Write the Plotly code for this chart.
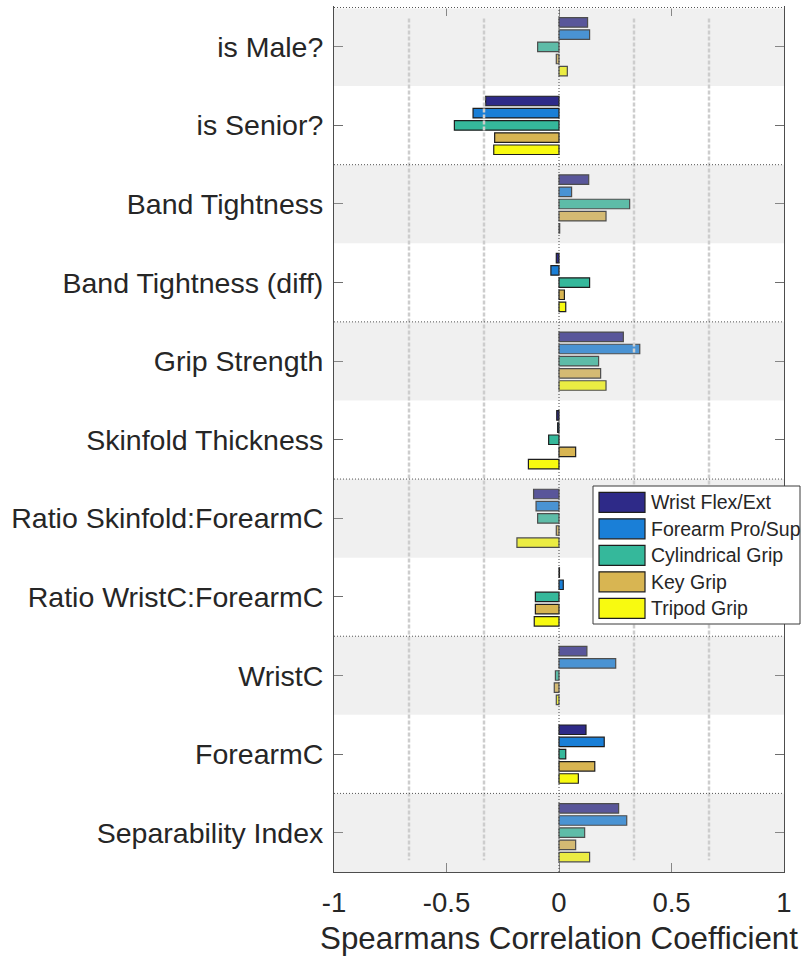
import plotly.graph_objects as go

# Predictors (rows, top to bottom) and Spearman correlations per outcome
predictors = [
    "is Male?", "is Senior?", "Band Tightness", "Band Tightness (diff)",
    "Grip Strength", "Skinfold Thickness", "Ratio Skinfold:ForearmC",
    "Ratio WristC:ForearmC", "WristC", "ForearmC", "Separability Index",
]

wrist_flex_ext = [0.127, -0.326, 0.132, -0.012, 0.286, -0.010, -0.113, 0.002, 0.124, 0.120, 0.265]
forearm_pro_sup = [0.136, -0.382, 0.056, -0.036, 0.359, -0.006, -0.102, 0.019, 0.252, 0.201, 0.301]
cylindrical_grip = [-0.095, -0.465, 0.314, 0.136, 0.176, -0.046, -0.095, -0.105, -0.016, 0.030, 0.114]
key_grip = [-0.012, -0.286, 0.209, 0.024, 0.185, 0.074, -0.012, -0.105, -0.021, 0.159, 0.074]
tripod_grip = [0.037, -0.290, 0.003, 0.030, 0.209, -0.136, -0.187, -0.110, -0.012, 0.086, 0.136]

series_names = ["Wrist Flex/Ext", "Forearm Pro/Sup", "Cylindrical Grip", "Key Grip", "Tripod Grip"]
series_values = [wrist_flex_ext, forearm_pro_sup, cylindrical_grip, key_grip, tripod_grip]
series_colors = ["#2e2a88", "#1a7fd7", "#35b89b", "#d8b552", "#f8fa10"]

x_tick_vals = [-1, -0.5, 0, 0.5, 1]
x_tick_text = ["-1", "-0.5", "0", "0.5", "1"]

FONT = "Liberation Sans, Arial, sans-serif"
TEXT = "#262626"

fig = go.Figure()
for name, vals, col in zip(series_names, series_values, series_colors):
    fig.add_trace(go.Bar(
        y=predictors, x=vals, orientation="h", name=name,
        marker=dict(color=col, line=dict(color="#1e1e1e", width=1.2)),
        showlegend=False,
    ))

shapes = []
n = len(predictors)

# translucent grey bands over every other row
for i in range(0, n, 2):
    shapes.append(dict(type="rect", xref="x", yref="y", x0=-1, x1=1,
                       y0=i - 0.5, y1=i + 0.5, fillcolor="rgb(200,200,200)",
                       opacity=0.28, line=dict(width=0), layer="above"))

# dashed reference lines at thirds
for k in (-2, -1, 1, 2):
    shapes.append(dict(type="line", xref="x", yref="y", x0=k / 3, x1=k / 3,
                       y0=-0.36, y1=n - 0.65,
                       line=dict(color="#cdcdcd", width=2.5, dash="4px,2px"),
                       layer="above"))

# hide the solid top frame line, then dotted separators every two rows
shapes.append(dict(type="line", xref="paper", yref="paper", x0=0, x1=1, y0=1, y1=1,
                   line=dict(color="white", width=3), layer="above"))
for i in range(0, n, 2):
    shapes.append(dict(type="line", xref="paper", yref="y", x0=0, x1=1,
                       y0=i - 0.5, y1=i - 0.5,
                       line=dict(color="#555555", width=1, dash="1px,2px"),
                       layer="above"))

# dotted zero line
shapes.append(dict(type="line", xref="x", yref="paper", x0=0, x1=0, y0=0, y1=1,
                   line=dict(color="#444444", width=1, dash="1px,2px"), layer="above"))

# legend box with swatches
plot_h = 957 - 7 - 85
plot_w = 803 - 334 - 19
def py(px):
    return (957 - 85 - px) / plot_h
def pxx(px):
    return (px - 334) / plot_w

shapes.append(dict(type="rect", xref="paper", yref="paper",
                   x0=pxx(593), x1=pxx(800), y0=py(624), y1=py(486),
                   fillcolor="white", line=dict(color="#3a3a3a", width=1), layer="above"))
annotations = []
for j, (name, col) in enumerate(zip(series_names, series_colors)):
    yc = 502.3 + 26.5 * j
    shapes.append(dict(type="rect", xref="paper", yref="paper",
                       x0=pxx(599), x1=pxx(645), y0=py(yc + 10), y1=py(yc - 10),
                       fillcolor=col, line=dict(color="#1e1e1e", width=1.2), layer="above"))
    annotations.append(dict(xref="paper", yref="paper", x=pxx(649), y=py(yc),
                            xanchor="left", yanchor="middle", text=name, showarrow=False,
                            font=dict(family=FONT, size=19.5, color=TEXT)))

fig.update_layout(
    width=803, height=957,
    margin=dict(l=334, r=19, t=7, b=85),
    paper_bgcolor="white", plot_bgcolor="white",
    barmode="group", bargap=0.225, bargroupgap=0.22,
    font=dict(family=FONT, color=TEXT),
    shapes=shapes, annotations=annotations,
    xaxis=dict(
        range=[-1, 1], tickvals=x_tick_vals, ticktext=x_tick_text,
        ticks="inside", ticklen=9, tickwidth=1.3, tickcolor="#6e6e6e",
        showline=True, linecolor="#4d4d4d", linewidth=1, mirror="ticks",
        showgrid=False, zeroline=False,
        tickfont=dict(family=FONT, size=27.5, color=TEXT),
        ticklabelstandoff=6,
        title=dict(text="Spearmans Correlation Coefficient",
                   font=dict(family=FONT, size=31.3, color=TEXT), standoff=10),
    ),
    yaxis=dict(
        autorange="reversed",
        ticks="inside", ticklen=9, tickwidth=1.3, tickcolor="#6e6e6e",
        showline=True, linecolor="#4d4d4d", linewidth=1, mirror="ticks",
        showgrid=False, zeroline=False,
        tickfont=dict(family=FONT, size=28.5, color=TEXT),
        ticklabelstandoff=4,
    ),
)

fig.write_html("out.html")
